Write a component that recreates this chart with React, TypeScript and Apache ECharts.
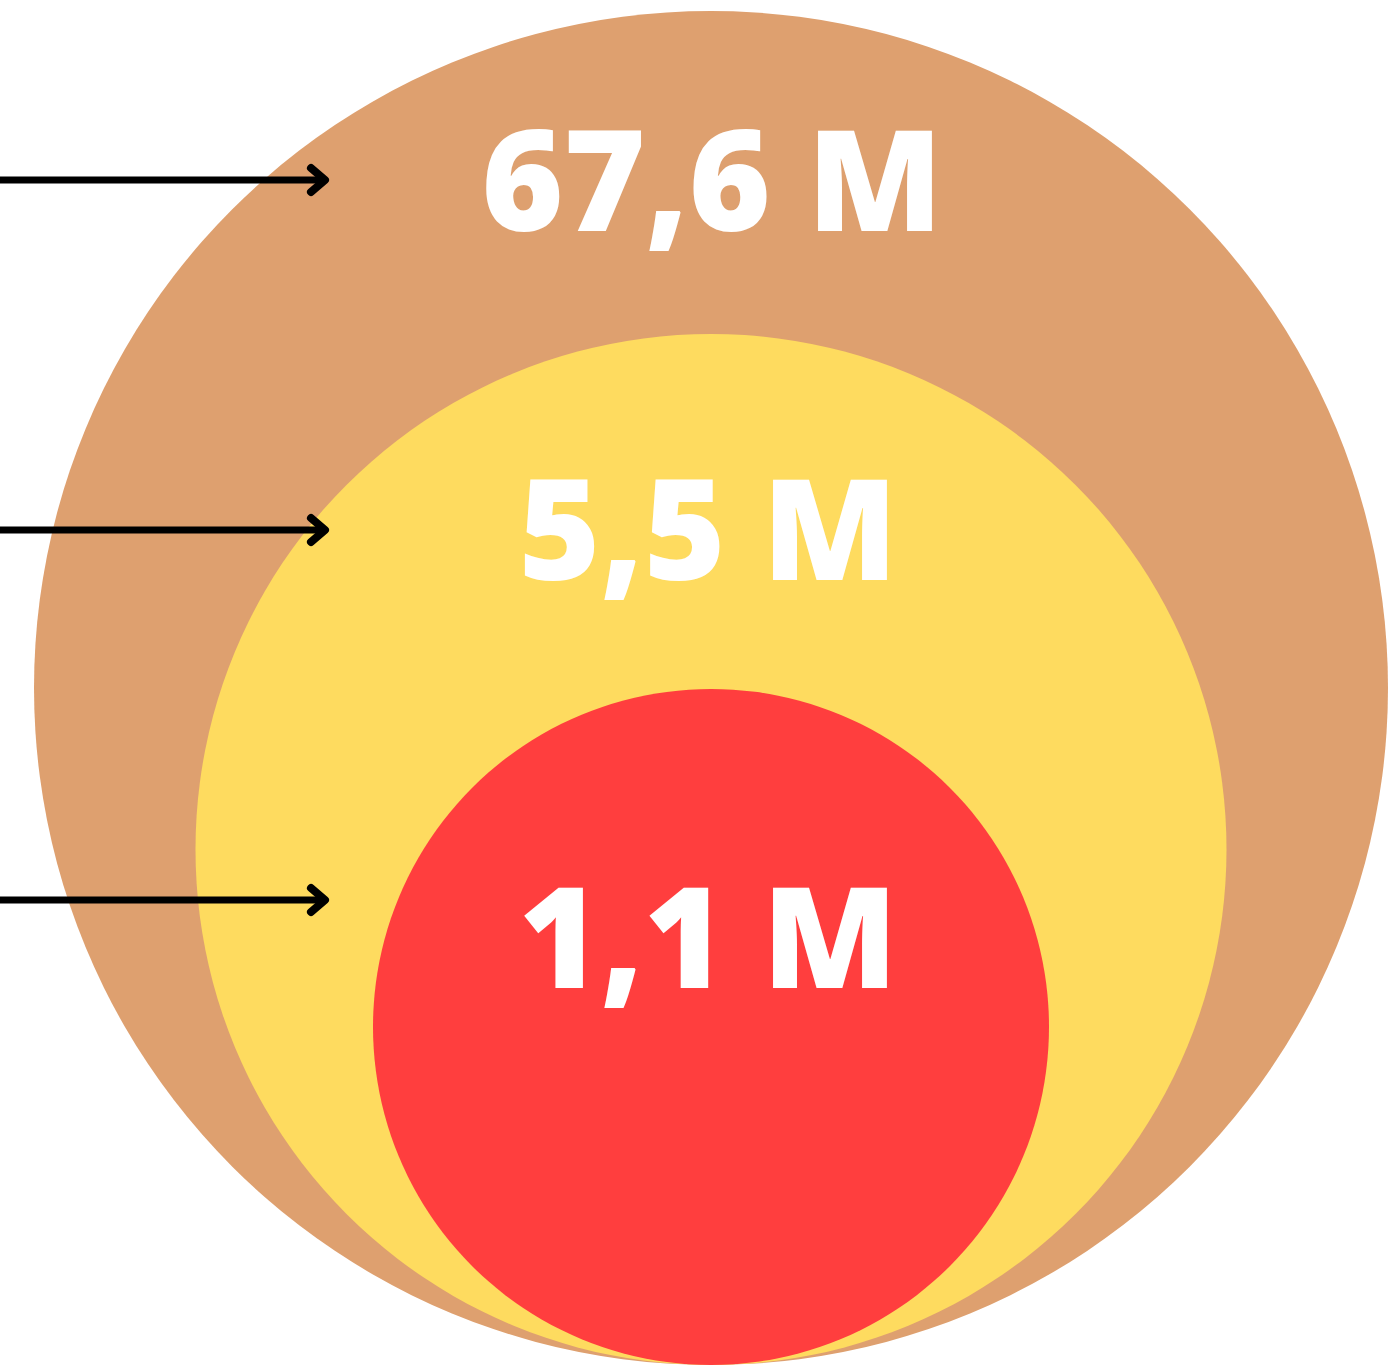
import React, { useEffect, useRef } from "react";
import * as echarts from "echarts";

// Data
const categories = ["Outer", "Middle", "Inner"];
const values = [67.6, 5.5, 1.1]; // millions
const unit = "M";

// Styles (sizes / colours)
const radii = [677, 515.5, 338];
const colors = ["#DEA06F", "#FEDB5F", "#FF3E3E"];
const labelOffsets = [[1, -512], [-3, -324], [-3, -94]];
const arrowYs = [180, 530, 900];

const W = 1399;
const H = 1365;

function fmt(v: number) {
  return v.toFixed(1).replace(".", ",") + " " + unit;
}

export default function App() {
  const ref = useRef<HTMLDivElement>(null);
  useEffect(() => {
    document.body.style.margin = "0";
    if (!ref.current) return;
    const chart = echarts.init(ref.current, undefined, { renderer: "svg" });

    const arrows: any[] = [];
    arrowYs.forEach((y) => {
      arrows.push({
        type: "line",
        shape: { x1: 0, y1: y, x2: 324, y2: y },
        style: { stroke: "#000", lineWidth: 7, lineCap: "butt" },
        z: 10,
      });
      arrows.push({
        type: "polyline",
        shape: { points: [[311, y - 12], [325, y], [311, y + 12]] },
        style: { stroke: "#000", lineWidth: 8, lineCap: "round", lineJoin: "round", fill: "none" },
        z: 10,
      });
    });

    chart.setOption({
      animation: false,
      grid: { left: 23, right: 0, top: 0, bottom: 0 },
      xAxis: { type: "value", min: -1, max: 1, show: false },
      yAxis: { type: "value", min: 0, max: 1, show: false },
      series: [
        {
          type: "scatter",
          silent: true,
          data: values.map((v, i) => ({
            name: categories[i],
            value: [0, 0, v],
            symbolSize: radii[i] * 2,
            symbolOffset: [0, -radii[i]],
            itemStyle: { color: colors[i], opacity: 1 },
            label: {
              show: true,
              position: "inside",
              offset: labelOffsets[i],
              formatter: fmt(v),
              color: "#fff",
              fontFamily: "Open Sans",
              fontWeight: 800,
              fontSize: 140,
            },
          })),
        },
      ],
      graphic: arrows,
    });
    return () => chart.dispose();
  }, []);
  return <div ref={ref} style={{ width: W, height: H }} />;
}
